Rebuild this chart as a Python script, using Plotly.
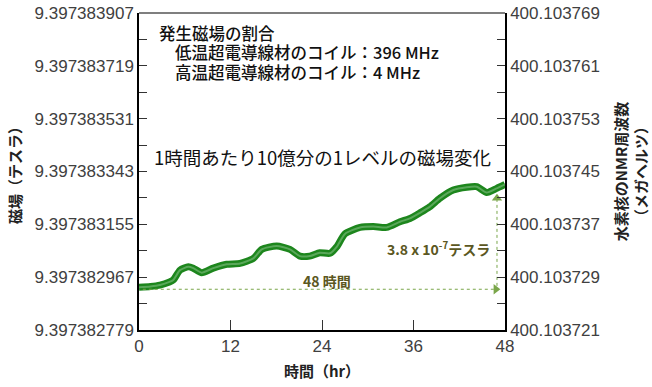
import plotly.graph_objects as go

# ---- data ----
hours = [0, 1.5, 2.75, 4.0, 4.5, 5.38, 6.47, 7.12, 8.22, 9.74, 11.5, 13.25, 15.0, 16.1, 18.06, 19.8,
         21.1, 22.4, 23.7, 25.05, 25.93, 27.0, 28.98, 30.73, 32.49, 34.23, 35.54, 36.85,
         38.16, 39.48, 41.22, 42.98, 44.29, 45.6, 46.91, 48.0]
field_T = [9.397382931, 9.397382934, 9.397382939, 9.397382950, 9.397382957, 9.397382992, 9.397383004, 9.397382999,
           9.397382983, 9.397382999, 9.397383013, 9.397383016, 9.397383034, 9.397383066,
           9.397383078, 9.397383066, 9.397383042, 9.397383042, 9.397383054, 9.397383052,
           9.397383075, 9.397383121, 9.397383144, 9.397383147, 9.397383144, 9.397383164,
           9.397383176, 9.397383196, 9.397383218, 9.397383248, 9.397383277, 9.397383287,
           9.397383289, 9.397383268, 9.397383283, 9.397383297]

left_ticks = [9.397382779, 9.397382967, 9.397383155, 9.397383343, 9.397383531, 9.397383719, 9.397383907]
left_ticktext = ["9.397382779", "9.397382967", "9.397383155", "9.397383343", "9.397383531", "9.397383719", "9.397383907"]
left_minor = [9.397382873, 9.397383061, 9.397383249, 9.397383437, 9.397383625, 9.397383813]
right_ticks = [400.103721, 400.103729, 400.103737, 400.103745, 400.103753, 400.103761, 400.103769]
right_ticktext = ["400.103721", "400.103729", "400.103737", "400.103745", "400.103753", "400.103761", "400.103769"]
right_minor = [400.103725, 400.103733, 400.103741, 400.103749, 400.103757, 400.103765]
x_ticks = [0, 12, 24, 36, 48]

# guide (48 h span, 3.8e-7 T rise)
guide_level = 9.397382924
guide_top = 9.397383248
span_hours = 46.8

JP = "Noto Sans CJK JP, Meiryo, sans-serif"
NUM = "Liberation Sans, Arial, sans-serif"
TXT = "#5b5722"
ARW = "#7aa64a"

fig = go.Figure()
fig.add_trace(go.Scatter(x=hours, y=field_T, mode="lines",
                         line=dict(color="#1d861d", width=7, shape="spline", smoothing=0.6),
                         hoverinfo="skip", showlegend=False))
fig.add_trace(go.Scatter(x=hours, y=field_T, mode="lines",
                         line=dict(color="#5aa85a", width=2, shape="spline", smoothing=0.6),
                         hoverinfo="skip", showlegend=False))
# invisible trace to activate the right axis
fig.add_trace(go.Scatter(x=[0, 48], y=[right_ticks[0], right_ticks[-1]], yaxis="y2",
                         mode="lines", line=dict(width=0), opacity=0,
                         hoverinfo="skip", showlegend=False))
# dotted guides with arrowheads
fig.add_trace(go.Scatter(x=[0.5, span_hours], y=[guide_level, guide_level], mode="lines",
                         line=dict(color=ARW, width=1, dash="dot"), hoverinfo="skip", showlegend=False))
fig.add_trace(go.Scatter(x=[span_hours + 0.15, span_hours + 0.15], y=[guide_level + 0.000000012, guide_top],
                         mode="lines", line=dict(color=ARW, width=1, dash="dot"),
                         hoverinfo="skip", showlegend=False))
fig.add_trace(go.Scatter(x=[span_hours], y=[guide_level], mode="markers",
                         marker=dict(symbol="triangle-right", size=9, color=ARW),
                         hoverinfo="skip", showlegend=False))
fig.add_trace(go.Scatter(x=[span_hours + 0.15], y=[guide_top], mode="markers",
                         marker=dict(symbol="triangle-up", size=9, color=ARW),
                         hoverinfo="skip", showlegend=False))

tickfont = dict(family=NUM, size=17, color="#404040")

fig.update_layout(
    width=652, height=387,
    margin=dict(l=139, r=147, t=13, b=57),
    plot_bgcolor="white", paper_bgcolor="white",
    xaxis=dict(range=[0, 48], tickvals=x_ticks, ticks="inside", ticklen=10, automargin=False,
               tickcolor="#333", showline=True, linecolor="black", linewidth=1.5,
               showgrid=False, zeroline=False, tickfont=tickfont,
               title=dict(text="<b>時間（hr）</b>", font=dict(family=JP, size=15, color="#222"),
                          standoff=11)),
    yaxis=dict(range=[left_ticks[0], left_ticks[-1]], tickvals=left_ticks, automargin=False,
               ticktext=left_ticktext, ticks="inside", ticklen=8, tickcolor="#333",
               minor=dict(tickmode="array", tickvals=left_minor, ticks="inside",
                          ticklen=8, tickcolor="#333", showgrid=False),
               showline=True, linecolor="black", linewidth=1.5, showgrid=False,
               zeroline=False, tickfont=tickfont,
               title=dict(text="<b>磁場（テスラ）</b>", font=dict(family=JP, size=15, color="#222"),
                          standoff=9)),
    yaxis2=dict(range=[right_ticks[0], right_ticks[-1]], overlaying="y", side="right",
                automargin=False,
                tickvals=right_ticks, ticktext=right_ticktext, ticks="inside", ticklen=8,
                tickcolor="#333",
                minor=dict(tickmode="array", tickvals=right_minor, ticks="inside",
                           ticklen=8, tickcolor="#333", showgrid=False),
                showline=True, linecolor="black", linewidth=1.5, showgrid=False,
                zeroline=False, tickfont=tickfont,
                title=dict(text="<b>水素核のNMR周波数<br>（メガヘルツ）</b>",
                           font=dict(family=JP, size=15, color="#222"), standoff=18)),
)

# grey top frame line
fig.add_shape(type="line", xref="paper", yref="paper", x0=0, x1=1, y0=1, y1=1,
              line=dict(color="#555", width=1.5))

fig.add_annotation(x=24.6, y=9.397382953, text="<b>48 時間</b>", showarrow=False,
                   font=dict(family=JP, size=14, color=TXT), xanchor="center", yanchor="middle")
fig.add_annotation(x=46.3, y=9.397383068, text="<b>3.8 x 10<sup>-7</sup>テスラ</b>", showarrow=False,
                   font=dict(family=JP, size=14, color=TXT), xanchor="right", yanchor="middle")

note_font = dict(family=JP, size=16.5, color="#111", weight=500)
fig.add_annotation(xref="paper", yref="paper", x=0.049, y=0.937, text="発生磁場の割合",
                   showarrow=False, xanchor="left", yanchor="middle", font=note_font)
fig.add_annotation(xref="paper", yref="paper", x=0.093, y=0.877,
                   text="低温超電導線材のコイル：396 MHz",
                   showarrow=False, xanchor="left", yanchor="middle", font=note_font)
fig.add_annotation(xref="paper", yref="paper", x=0.093, y=0.814,
                   text="高温超電導線材のコイル：4 MHz",
                   showarrow=False, xanchor="left", yanchor="middle", font=note_font)
fig.add_annotation(xref="paper", yref="paper", x=0.0355, y=0.546,
                   text="1時間あたり10億分の1レベルの磁場変化",
                   showarrow=False, xanchor="left", yanchor="middle",
                   font=dict(family=JP, size=18.5, color="#111"))

fig.write_html("out.html", post_script="document.body.style.margin='0px';",
               config={"displayModeBar": False})
